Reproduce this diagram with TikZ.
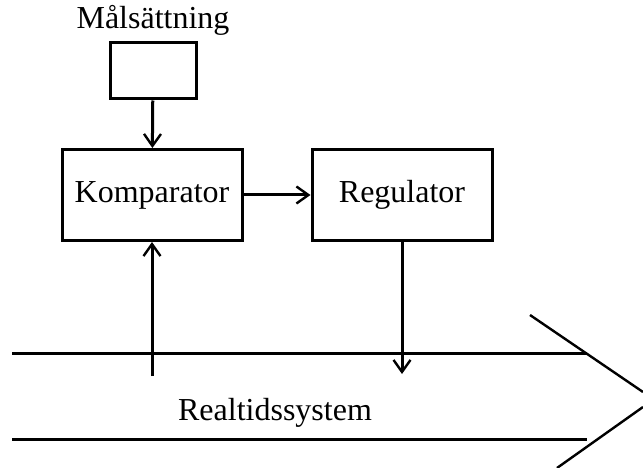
\documentclass[tikz,border=0pt]{standalone}
\usepackage{fontspec}
\setmainfont{Liberation Serif}
\usetikzlibrary{arrows.meta}
\begin{document}
\begin{tikzpicture}[x=1pt, y=-1pt, line width=3pt,
    block/.style={draw, rectangle, inner sep=0pt},
    flow/.style={-{Straight Barb[length=12pt, width=17pt, line width=2.4pt]}},
    txt/.style={font=\fontsize{32}{35}\selectfont}]
    % Frame
    \useasboundingbox (0,0) rectangle (643,468);

    % Blocks
    \node[block, minimum width=86pt, minimum height=56pt] (mal) at (153,71) {};
    \node[txt, above=1pt] (maltext) at (mal.north) {Målsättning};
    \node[block, txt, minimum width=180pt, minimum height=91pt] (komp) at (152,195) {Komparator};
    \node[block, txt, minimum width=180pt, minimum height=91pt] (reg) at (402,195) {Regulator};

    % Connections
    \draw[flow] (mal) -- (komp);
    \draw[flow] (komp) -- (reg);
    \coordinate (fb) at (152,376);
    \coordinate (ctl) at (402,374);
    \draw[flow] (fb) -- (komp.south);
    \draw[flow] (reg.south) -- (ctl);

    % Realtime system arrow
    \draw (12,353) -- (587,353);
    \draw (12,439) -- (587,439);
    \draw[line width=2.4pt] (530,315) -- (643,392);
    \draw[line width=2.4pt] (643,407) -- (557,468);
    \node[txt] (sys) at (275,413) {Realtidssystem};
\end{tikzpicture}
\end{document}
